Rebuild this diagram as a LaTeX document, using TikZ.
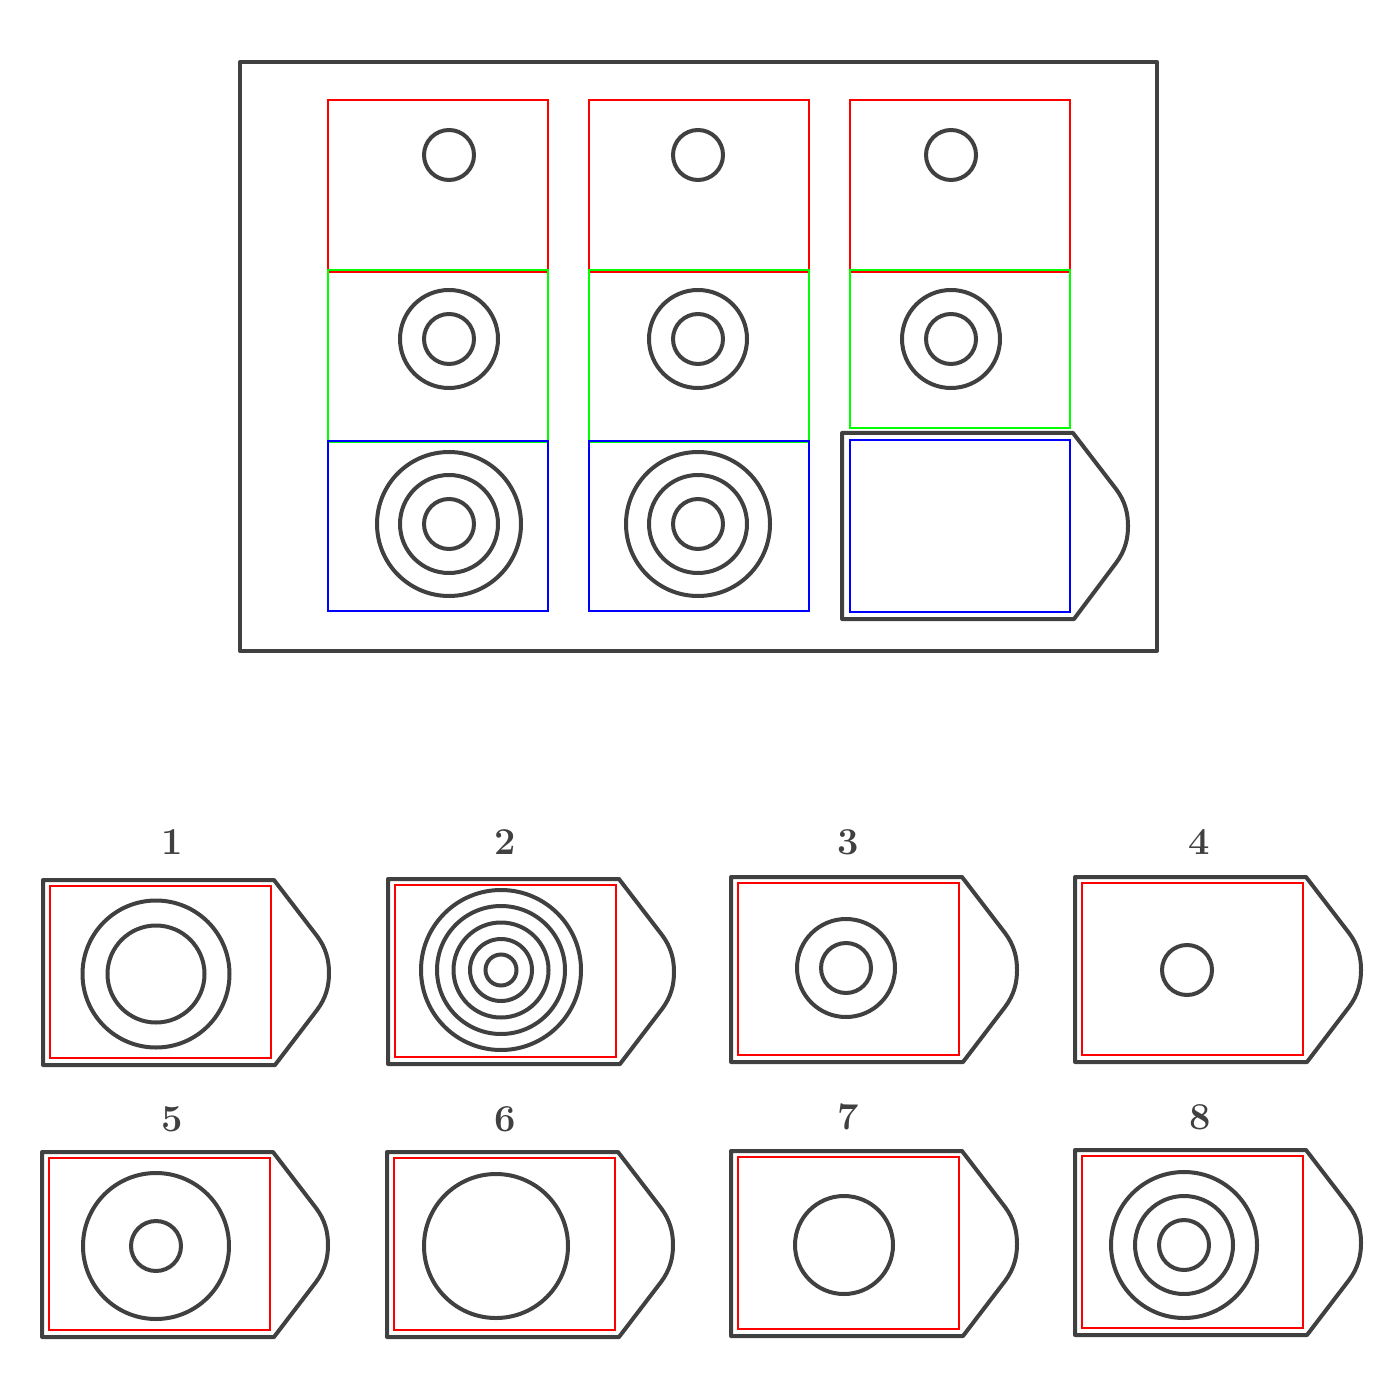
\documentclass[tikz,border=0pt]{standalone}
\usepackage{tikz}
\definecolor{ink}{HTML}{404040}

\begin{document}
\begin{tikzpicture}[x=0.5pt,y=-0.5pt,
  frame/.style={draw=ink,line width=2pt,line join=round},
  ring/.style={draw=ink,line width=2pt},
  cellred/.style={draw=red,line width=0.75pt},
  cellgreen/.style={draw=green,line width=0.75pt},
  cellblue/.style={draw=blue,line width=0.75pt},
  optnum/.style={text=ink,font=\fontsize{19}{22}\selectfont\bfseries,inner sep=0pt}]
\useasboundingbox (0,0) rectangle (1400,1400);
% matrix
\draw[frame] (240,62) rectangle (1157,651);
\foreach \cx in {328,589,850} \draw[cellred] (\cx,100) rectangle ++(220,172);
\foreach \cx in {328,589} {
  \draw[cellgreen] (\cx,270) rectangle ++(220,172);
  \draw[cellblue] (\cx,441) rectangle ++(220,170);
}
\draw[cellgreen] (850,270) rectangle (1070,428);
\draw[cellblue] (850,440) rectangle (1070,612);
\begin{scope}[shift={(842,433)}]
  \draw[frame] (0,0) -- (231,0) -- (274,56) .. controls (283,68) and (286,80) .. (286,93)
    .. controls (286,106) and (283,118) .. (274,130) -- (232,186) -- (0,186) -- cycle;
\end{scope}
\foreach \cx in {449,698,951} {
  \draw[ring] (\cx,155) circle (25);
  \draw[ring] (\cx,339) circle (25); \draw[ring] (\cx,339) circle (49);
}
\foreach \cx in {449,698} \foreach \r in {25,49,72} \draw[ring] (\cx,524) circle (\r);
% answer cards
\foreach \n/\lx/\ty/\cx/\cy/\radii in {1/43/880/156/974/{48.5,73.5},
    2/388/879/501/970/{15.5,31,47.5,64,80}, 3/731/877/846/968/{25,49},
    4/1075/877/1187/970/{25}, 5/42/1152/156/1246/{25,73},
    6/387/1152/496/1246/{72}, 7/731/1151/844/1245/{49},
    8/1075/1150/1184/1245/{25,49,73}} {
  \begin{scope}[shift={(\lx,\ty)}]
    \draw[frame] (0,0) -- (231,0) -- (274,56) .. controls (283,68) and (286,80) .. (286,93)
      .. controls (286,106) and (283,118) .. (274,130) -- (232,185) -- (0,185) -- cycle;
    \draw[cellred] (7,6) rectangle (228,178);
  \end{scope}
  \foreach \r in \radii \draw[ring] (\cx,\cy) circle (\r);
}
\foreach \n/\x/\y in {1/172/842,2/505/842,3/848/842,4/1199/842,
    5/172/1119,6/505/1119,7/848/1117,8/1200/1117}
  \node[optnum] (num\n) at (\x,\y) {\n};
\end{tikzpicture}
\end{document}
